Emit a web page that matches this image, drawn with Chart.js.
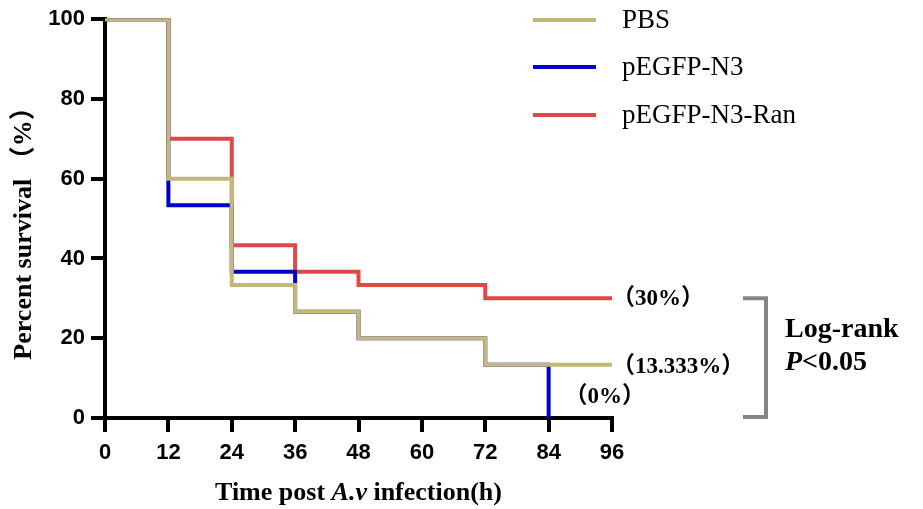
<!DOCTYPE html>
<html>
<head>
<meta charset="utf-8">
<script src="https://cdn.jsdelivr.net/npm/chart.js@4/dist/chart.umd.min.js"></script>
<style>
  body { margin: 0; background: #fff; }
  canvas { display: block; }
</style>
</head>
<body>
<canvas id="myChart" width="923" height="509"></canvas>
<script>
// Kaplan-Meier survival, values in %
const seriesNames = ['PBS', 'pEGFP-N3', 'pEGFP-N3-Ran'];
const pbsTimes = [0, 12, 24, 36, 48, 72, 96];
const pbsSurvival = [100, 60, 33.333, 26.667, 20, 13.333, 13.333];
const n3Times = [0, 12, 24, 36, 48, 72, 84];
const n3Survival = [100, 53.333, 36.667, 26.667, 20, 13.333, 0];
const ranTimes = [0, 12, 24, 36, 48, 72, 96];
const ranSurvival = [100, 70, 43.333, 36.667, 33.333, 30, 30];
const endLabels = ['（30%）', '（13.333%）', '（0%）'];
const xTicks = [0, 12, 24, 36, 48, 60, 72, 84, 96];
const yTicks = [0, 20, 40, 60, 80, 100];

const colors = ['#c4b878', '#0000c8', '#e04848'];
const serif = "'Liberation Serif', 'Times New Roman', 'Noto Sans CJK SC', serif";

function toPoints(xs, ys) {
  return xs.map((x, i) => ({ x: x, y: ys[i] }));
}

// legend, end labels, bracket and axis titles
const overlay = {
  id: 'overlay',
  afterDraw(chart) {
    const ctx = chart.ctx;
    const area = chart.chartArea;
    const xs = chart.scales.x, ys = chart.scales.y;
    ctx.save();

    // legend
    const legendY = [20, 67, 115];
    seriesNames.forEach((name, i) => {
      ctx.strokeStyle = colors[i];
      ctx.lineWidth = 4;
      ctx.beginPath();
      ctx.moveTo(533, legendY[i]);
      ctx.lineTo(596, legendY[i]);
      ctx.stroke();
      ctx.fillStyle = '#000';
      ctx.font = '27px ' + serif;
      ctx.textBaseline = 'middle';
      ctx.textAlign = 'left';
      ctx.fillText(name, 622, legendY[i] + 1);
    });

    // end-of-curve labels
    ctx.font = 'bold 23px ' + serif;
    ctx.fillStyle = '#000';
    ctx.fillText(endLabels[0], area.right, ys.getPixelForValue(ranSurvival[ranSurvival.length - 1]) + 1);
    ctx.fillText(endLabels[1], area.right, ys.getPixelForValue(pbsSurvival[pbsSurvival.length - 1]) + 2);
    ctx.fillText(endLabels[2], xs.getPixelForValue(87), ys.getPixelForValue(5.2));

    // bracket
    const bTop = ys.getPixelForValue(30), bBot = ys.getPixelForValue(0) - 1;
    ctx.strokeStyle = '#858585';
    ctx.lineWidth = 4;
    ctx.beginPath();
    ctx.moveTo(area.right + 131, bTop);
    ctx.lineTo(area.right + 154, bTop);
    ctx.lineTo(area.right + 154, bBot);
    ctx.lineTo(area.right + 131, bBot);
    ctx.stroke();

    ctx.fillStyle = '#000';
    ctx.font = 'bold 28px ' + serif;
    ctx.fillText('Log-rank', 785, 330);
    ctx.font = 'italic bold 28px ' + serif;
    ctx.fillText('P', 785, 363);
    const pw = ctx.measureText('P').width;
    ctx.font = 'bold 28px ' + serif;
    ctx.fillText('<0.05', 785 + pw, 363);

    // x title with italic A.v
    const parts = [['Time post ', false], ['A.v', true], [' infection(h)', false]];
    let total = 0;
    parts.forEach(p => {
      ctx.font = (p[1] ? 'italic ' : '') + 'bold 26px ' + serif;
      total += ctx.measureText(p[0]).width;
    });
    let x = (area.left + area.right) / 2 - total / 2;
    parts.forEach(p => {
      ctx.font = (p[1] ? 'italic ' : '') + 'bold 26px ' + serif;
      ctx.fillText(p[0], x, 493);
      x += ctx.measureText(p[0]).width;
    });

    // y title
    ctx.translate(24, 227);
    ctx.rotate(-Math.PI / 2);
    ctx.textAlign = 'center';
    ctx.font = 'bold 26px ' + serif;
    ctx.fillText('Percent survival （%）', 0, 0);
    ctx.restore();
  }
};

const tickFont = { family: "'Liberation Sans', Arial, sans-serif", weight: 'bold', size: 22 };

new Chart(document.getElementById('myChart').getContext('2d'), {
  type: 'line',
  data: {
    datasets: [
      { label: seriesNames[0], data: toPoints(pbsTimes, pbsSurvival), borderColor: colors[0] },
      { label: seriesNames[1], data: toPoints(n3Times, n3Survival), borderColor: colors[1] },
      { label: seriesNames[2], data: toPoints(ranTimes, ranSurvival), borderColor: colors[2] }
    ]
  },
  options: {
    responsive: false,
    animation: false,
    layout: { padding: { left: 0, right: 311, top: 19, bottom: 0 } },
    datasets: {
      line: { stepped: 'before', borderWidth: 4, pointRadius: 0, fill: false, clip: { left: 5, top: 1, right: 5, bottom: 5 } }
    },
    plugins: { legend: { display: false }, tooltip: { enabled: false } },
    scales: {
      x: {
        type: 'linear', min: 0, max: 96,
        afterBuildTicks: s => { s.ticks = xTicks.map(v => ({ value: v })); },
        afterFit: s => { s.height = 91; },
        ticks: { color: '#000', font: tickFont, padding: 8 },
        grid: { drawOnChartArea: false, color: '#000', lineWidth: 4, tickLength: 14 },
        border: { color: '#000', width: 4 }
      },
      y: {
        min: 0, max: 100,
        afterBuildTicks: s => { s.ticks = yTicks.map(v => ({ value: v })); },
        afterFit: s => { s.width = 105; },
        ticks: { color: '#000', font: tickFont, padding: 6 },
        grid: { drawOnChartArea: false, color: '#000', lineWidth: 4, tickLength: 14 },
        border: { color: '#000', width: 4 }
      }
    }
  },
  plugins: [overlay]
});
</script>
</body>
</html>
